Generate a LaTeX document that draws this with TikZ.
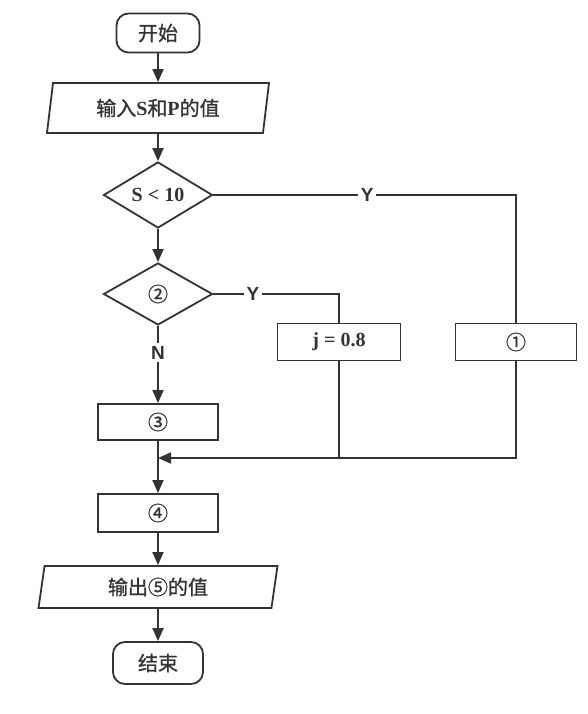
\documentclass[tikz,border=0pt]{standalone}
\usepackage{fontspec}
\setmainfont{Liberation Serif}
\setsansfont{Liberation Sans}
\newfontfamily\cjk{Noto Sans CJK SC}[FakeBold=1]
\usetikzlibrary{shapes.geometric, arrows.meta}
\definecolor{lineGray}{HTML}{333333}

\begin{document}
\begin{tikzpicture}[x=1pt, y=-1pt, line width=1.8pt, color=lineGray,
		font=\fontsize{20}{24}\selectfont, >={Triangle[length=13pt,width=11pt]},
		term/.style={draw, rectangle, rounded corners=12pt, inner sep=0pt},
		io/.style={draw, trapezium, trapezium left angle=72, trapezium right angle=108, trapezium stretches body, inner sep=0pt},
		cond/.style={draw, diamond, inner sep=0pt, minimum width=109pt, minimum height=62pt},
		proc/.style={draw, rectangle, inner sep=0pt},
		lbl/.style={fill=white, inner sep=3pt, font=\sffamily\bfseries\fontsize{19}{22}\selectfont}]
		\useasboundingbox (0,0) rectangle (587,714);
		% terminals and input/output
		\node[term, minimum width=83pt, minimum height=39pt] (start) at (158,33) {\cjk 开始};
		\node[io, minimum width=222pt, minimum height=50pt] (input) at (158,108) {{\cjk 输入}\textbf{S}{\cjk 和}\textbf{P}{\cjk 的值}};
		\node[io, minimum width=239pt, minimum height=42pt] (output) at (158,587) {{\cjk 输出⑤的值}};
		\node[term, minimum width=90pt, minimum height=42pt] (end) at (158,663) {\cjk 结束};
		% decisions
		\node[cond] (test) at (158,195) {\textbf{S < 10}};
		\node[cond] (sel) at (158,294) {\cjk ②};
		% process boxes
		\foreach \x/\y/\w/\h/\nm/\txt in {
			516/342/121/37/one/{\cjk ①},
			339/342/123/37/jbox/{\textbf{j = 0.8}},
			158/422/120/36/three/{\cjk ③},
			158/513/120/38/four/{\cjk ④}
		}{
			\node[proc, minimum width=\w pt, minimum height=\h pt] (\nm) at (\x,\y) {\txt};
		}
		\coordinate (join) at (158,458);
		% main column
		\foreach \a/\b in {start/input, input/test, test/sel, three/four, four/output, output/end}
		{\draw[->] (\a) -- (\b);}
		\draw (test.east) -| node[lbl, pos=.254] (yes1) {Y} (one.north);
		\draw (sel.east) -| node[lbl, pos=.157] (yes2) {Y} (jbox.north);
		\draw[->] (sel) -- node[lbl, pos=.35] (no) {N} (three);
		\draw[->] (one.south) |- (join);
		\draw (jbox.south) -- (jbox.south |- join);
	\end{tikzpicture}
\end{document}
